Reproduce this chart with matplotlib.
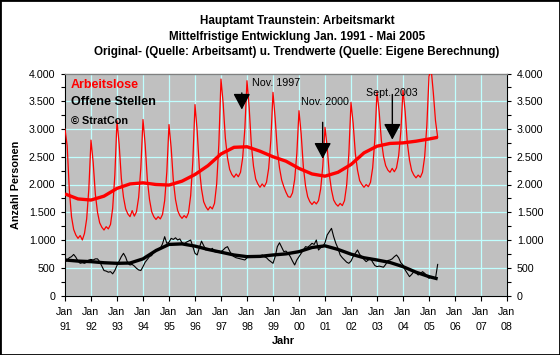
import matplotlib
matplotlib.use('Agg')
import matplotlib.pyplot as plt
import numpy as np
from matplotlib.patches import Rectangle
from matplotlib.ticker import MultipleLocator, FixedLocator

plt.rcParams['font.family'] = ['Liberation Sans', 'DejaVu Sans']

# ---------------- data ----------------
title_lines = [
    "Hauptamt Traunstein: Arbeitsmarkt",
    "Mittelfristige Entwicklung Jan. 1991 - Mai 2005",
    "Original- (Quelle: Arbeitsamt) u. Trendwerte (Quelle: Eigene Berechnung)",
]
start_year = 1991  # first value = Jan 1991, monthly

arbeitslose = [
    3000, 2700, 1900, 1420, 1190, 1090, 1030, 1080, 1000, 1120, 1380, 1920,
    2800, 2400, 1830, 1500, 1310, 1230, 1180, 1240, 1200, 1280, 1570, 2170,
    3150, 2720, 2110, 1770, 1560, 1470, 1420, 1530, 1430, 1510, 1770, 2300,
    3170, 2720, 2090, 1730, 1510, 1420, 1370, 1420, 1380, 1460, 1710, 2230,
    3080, 2660, 2070, 1730, 1530, 1440, 1390, 1440, 1400, 1490, 1800, 2420,
    3440, 2970, 2300, 1920, 1690, 1600, 1540, 1600, 1560, 1660, 2010, 2720,
    3900, 3460, 2840, 2480, 2270, 2180, 2130, 2190, 2140, 2220, 2480, 3000,
    3870, 3390, 2720, 2330, 2100, 2010, 1950, 2010, 1960, 2040, 2290, 2800,
    3660, 3190, 2620, 2300, 2080, 1960, 1860, 1780, 1770, 1850, 2090, 2560,
    3330, 2910, 2320, 1980, 1780, 1690, 1640, 1690, 1650, 1710, 1920, 2340,
    3030, 2680, 2180, 1900, 1720, 1650, 1610, 1660, 1620, 1710, 1990, 2550,
    3480, 3100, 2560, 2260, 2070, 2000, 1950, 2000, 1960, 2040, 2300, 2810,
    3670, 3310, 2800, 2510, 2340, 2260, 2220, 2290, 2230, 2300, 2520, 2960,
    3700, 3310, 2750, 2440, 2250, 2170, 2120, 2170, 2130, 2220, 2500, 3060,
    3950, 4080, 3650, 3150, 2850,
]

offene_stellen = [
    600, 640, 680, 700, 740, 690, 620, 580, 590, 580, 600, 640,
    650, 640, 660, 660, 610, 530, 450, 440, 420, 430, 390, 450,
    540, 620, 700, 760, 690, 580, 550, 560, 530, 490, 460, 450,
    520, 600, 650, 700, 720, 780, 830, 810, 850, 930, 1060, 940,
    960, 1030, 1010, 1040, 1000, 1020, 950, 930, 960, 980, 1000, 880,
    760, 730, 860, 980, 900, 820, 830, 810, 850, 790, 780, 800,
    790, 820, 860, 880, 800, 730, 700, 680, 670, 660, 650, 640,
    680, 700, 720, 700, 690, 710, 700, 730, 700, 680, 640, 610,
    580, 700, 880, 950, 870, 790, 800, 760, 700, 620, 550, 640,
    700, 760, 820, 880, 870, 900, 940, 920, 1000, 820, 860, 880,
    950, 1090, 1150, 1210, 1060, 940, 850, 730, 680, 640, 600, 580,
    620, 700, 760, 820, 740, 700, 650, 610, 640, 670, 600, 540,
    520, 530, 520, 510, 560, 630, 640, 660, 700, 730, 680, 590,
    550, 460, 400, 340, 380, 430, 410, 370, 390, 430, 400, 350,
    310, 340, 320, 310, 560,
]

# trend values (month index from Jan 1991)
trend_months = [0, 6, 12, 18, 24, 30, 36, 42, 48, 54, 60, 66, 72, 78, 84,
                90, 96, 102, 108, 114, 120, 126, 132, 138, 144, 150, 156,
                162, 168, 172]
trend_arbeitslose = [1830, 1740, 1720, 1790, 1930, 2010, 2030, 2000, 1990,
                     2060, 2180, 2340, 2550, 2670, 2680, 2600, 2500, 2420,
                     2290, 2190, 2150, 2220, 2360, 2570, 2690, 2740, 2750,
                     2780, 2820, 2850]
trend_offene = [640, 620, 610, 590, 580, 585, 660, 810, 920, 930, 890, 830,
                780, 730, 700, 705, 730, 750, 790, 865, 895, 830, 745, 680,
                640, 595, 520, 420, 340, 300]

year_ticks = list(range(1991, 2009))
xtick_labels = ["Jan\n%02d" % (y % 100) for y in year_ticks]
ytick_values = [0, 500, 1000, 1500, 2000, 2500, 3000, 3500, 4000]
ytick_labels = ["0", "500", "1.000", "1.500", "2.000", "2.500", "3.000",
                "3.500", "4.000"]

legend_items = [("Arbeitslose", "#FF0000", "bold", 9),
                ("Offene Stellen", "#000000", "bold", 9.1),
                ("\u00a9 StratCon", "#000000", "bold", 7.8)]

# annotations: text, text x (year), text y, arrow x (year), tail y, tip y
notes = [("Nov. 1997", 1998.18, 3820, 1997.80, 3650, 3350),
         ("Nov. 2000", 2000.065, 3489, 2000.91, 3120, 2465),
         ("Sept. 2003", 2002.577, 3652, 2003.59, 3621, 2808)]

# ---------------- figure ----------------
W, H = 560, 355
fig = plt.figure(figsize=(W / 100, H / 100), dpi=100)
fig.patch.set_facecolor('white')
L, R, T, B = 65, 507, 73.5, 295.5
ax = fig.add_axes([L / W, 1 - B / H, (R - L) / W, (B - T) / H])
ax.set_facecolor('#C0C0C0')

x_raw_a = start_year + np.arange(len(arbeitslose)) / 12.0
x_raw_o = start_year + np.arange(len(offene_stellen)) / 12.0
x_tr = start_year + np.array(trend_months) / 12.0

ax.plot(x_raw_a, arbeitslose, color='#FF0000', lw=0.9, zorder=3)
ax.plot(x_tr, trend_arbeitslose, color='#FF0000', lw=2.4, zorder=4,
        solid_capstyle='butt')
ax.plot(x_raw_o, offene_stellen, color='black', lw=0.8, zorder=3)
ax.plot(x_tr, trend_offene, color='black', lw=2.4, zorder=4,
        solid_capstyle='butt')

ax.set_xlim(1991, 2008)
ax.set_ylim(0, 4000)

ax.xaxis.set_major_locator(FixedLocator(year_ticks))
ax.set_xticklabels(xtick_labels, fontsize=7.7, linespacing=1.55)
ax.yaxis.set_major_locator(FixedLocator(ytick_values))
ax.set_yticklabels(ytick_labels, fontsize=7.7)
ax.yaxis.set_minor_locator(MultipleLocator(250))

ax.grid(True, which='major', color='#C0FFFF', lw=0.9)
ax.set_axisbelow(True)

ax.tick_params(axis='y', which='both', direction='out', length=3, width=0.8,
               left=True, right=True, labelleft=True, labelright=True)
ax.tick_params(axis='y', which='major', pad=4)
ax.tick_params(axis='x', which='major', direction='out', length=3.5,
               width=0.8, pad=5)

for s in ['left', 'right', 'bottom']:
    ax.spines[s].set_color('black')
    ax.spines[s].set_linewidth(0.8)
ax.spines['top'].set_color('#808080')
ax.spines['top'].set_linewidth(1.0)

ax.set_ylabel("Anzahl Personen", fontsize=7.8, fontweight='bold')
ax.yaxis.set_label_coords((21 - L) / (R - L), 0.5)

# titles
for t, yy in zip(title_lines, [21, 37, 52]):
    fig.text(297 / W, 1 - yy / H, t, ha='center', va='center',
             fontsize=8.4, fontweight='bold')

fig.text(283 / W, 1 - 341 / H, "Jahr", ha='center', va='center',
         fontsize=7.8, fontweight='bold')

# legend-like texts
for (txt, col, wt, fs), yy in zip(legend_items, [84.5, 102, 121]):
    fig.text(71 / W, 1 - yy / H, txt, ha='left', va='center', color=col,
             fontweight=wt, fontsize=fs)

# annotations
for txt, tx, ty, axx, y0, y1 in notes:
    ax.text(tx, ty, txt, ha='left', va='center', fontsize=7.7, zorder=6)
    ax.annotate('', xy=(axx, y1), xytext=(axx, y0),
                arrowprops=dict(arrowstyle='-|>,head_length=0.75,head_width=0.4',
                                color='black', lw=1.0, shrinkA=0, shrinkB=0,
                                mutation_scale=13), zorder=6)

fig.patches.append(Rectangle((0, 0), 1, 1, transform=fig.transFigure,
                             fill=False, edgecolor='black', lw=2.0))

fig.savefig('out.png', dpi=100)
